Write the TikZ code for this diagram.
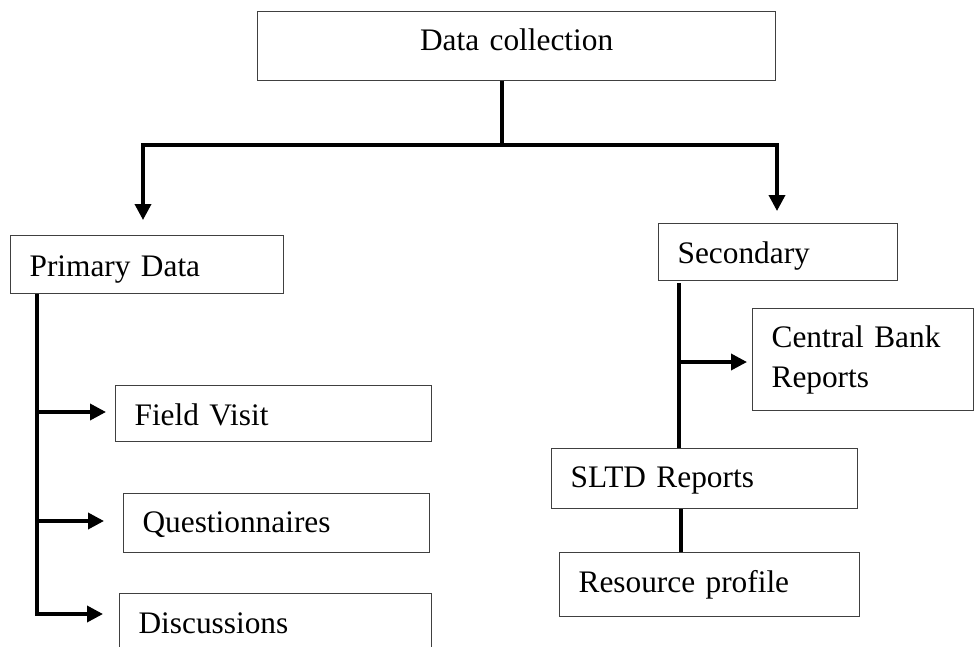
\documentclass[tikz,border=0pt]{standalone}
\usepackage{fontspec}
\setmainfont{Liberation Serif}
\usetikzlibrary{arrows.meta}
\tikzset{
  boxst/.style={draw=black!75, line width=0.9pt, rectangle, anchor=north west,
    inner xsep=14.25bp, inner ysep=0pt, align=left,
    font=\fontsize{23.5bp}{30bp}\selectfont},
  conn/.style={line width=2.7bp, line join=miter},
  arr/.style={conn, -{Triangle[width=12bp,length=12bp]}}
}
\begin{document}
\begin{tikzpicture}[x=0.75bp, y=-0.75bp]
\useasboundingbox (0,0) rectangle (976,647);
% boxes
\node[boxst, align=center, minimum width=388.5bp, text width=360bp, text height=29.25bp, text depth=22.5bp] (dc) at (257,11) {Data collection};
\node[boxst, minimum width=204.75bp, text width=176.25bp, text height=30.75bp, text depth=12.75bp] (pd) at (10,235) {Primary Data};
\node[boxst, minimum width=237bp, text width=208.5bp, text height=30bp, text depth=12bp] (fv) at (115,385) {Field Visit};
\node[boxst, minimum width=229.5bp, text width=201bp, text height=29.25bp, text depth=15bp] (qu) at (123,493) {Questionnaires};
\node[boxst, minimum width=234bp, text width=205.5bp, text height=30bp, text depth=16.5bp] (di) at (119,593) {Discussions};
\node[boxst, minimum width=179.25bp, text width=150.75bp, text height=30bp, text depth=12.75bp] (se) at (658,223) {Secondary};
\node[boxst, minimum width=165.75bp, minimum height=76.5bp, text width=137.25bp] (cb) at (752,308) {Central Bank\\Reports};
\node[boxst, minimum width=229.5bp, text width=201bp, text height=29.25bp, text depth=15.75bp] (sl) at (551,448) {SLTD Reports};
\node[boxst, minimum width=225bp, text width=196.5bp, text height=30bp, text depth=18bp] (rp) at (559,552) {Resource profile};
% coordinates
\coordinate (j) at (502,145);
\coordinate (aL) at (143,220);
\coordinate (aR) at (777,211);
\coordinate (ps) at (37,614);
\coordinate (fvt) at (106,412);
\coordinate (qut) at (104,521);
\coordinate (dit) at (103,614);
\coordinate (ss) at (679,283);
\coordinate (cbt) at (747,362);
% connectors
\draw[conn] (dc.south -| j) -- (j);
\draw[arr] (j) -| (aL);
\draw[arr] (j) -| (aR);
\draw[arr] (pd.south -| ps) -- (ps) -- (dit);
\draw[arr] (fvt -| ps) -- (fvt);
\draw[arr] (qut -| ps) -- (qut);
\draw[conn] (ss) -- (sl.north -| ss);
\draw[arr] (cbt -| ss) -- (cbt);
\draw[conn] (sl.south -| 681,0) -- (rp.north -| 681,0);
\end{tikzpicture}
\end{document}
